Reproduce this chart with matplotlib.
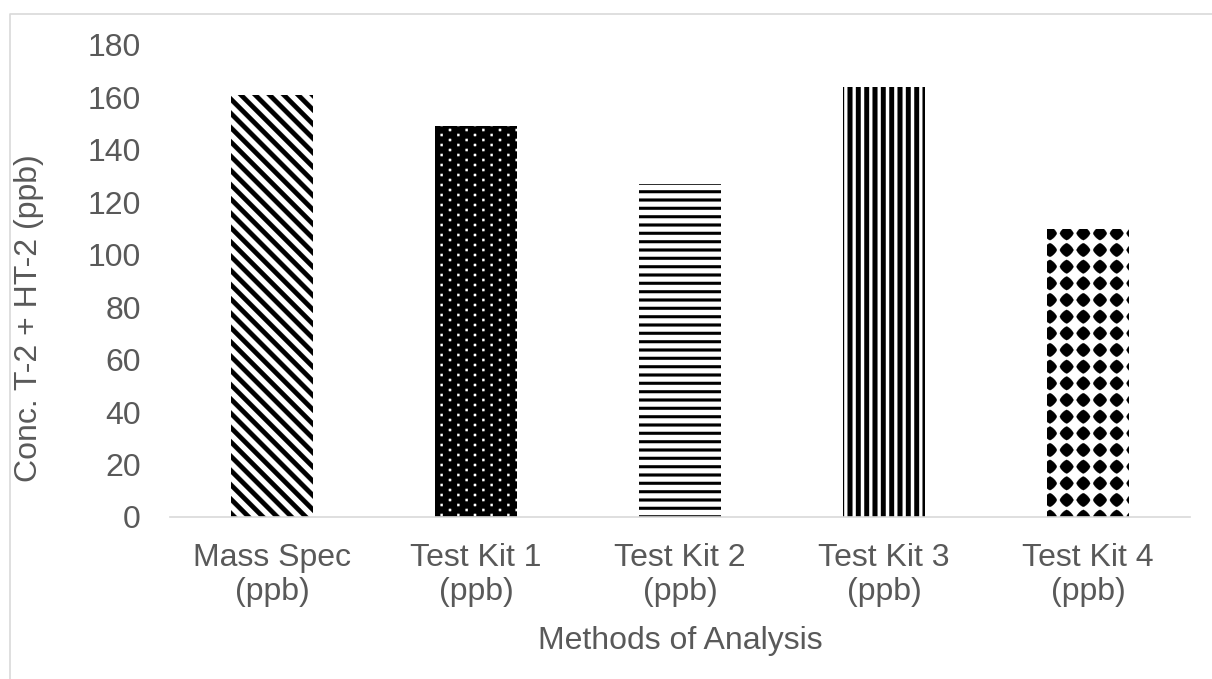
import numpy as np
import matplotlib
matplotlib.use("Agg")
import matplotlib.pyplot as plt
import matplotlib.hatch as mhatch
from matplotlib.path import Path
from matplotlib.lines import Line2D

# ---- data -------------------------------------------------------------
methods = ["Mass Spec\n(ppb)", "Test Kit 1\n(ppb)", "Test Kit 2\n(ppb)",
           "Test Kit 3\n(ppb)", "Test Kit 4\n(ppb)"]
concentrations = [161, 149, 127, 164, 110]
y_ticks = [0, 20, 40, 60, 80, 100, 120, 140, 160, 180]

x_title = "Methods of Analysis"
y_title = "Conc. T-2 + HT-2 (ppb)"

# hatch code, face colour, pattern colour for each bar
bar_fills = [("\\", "white", "black"),
             (".", "black", "white"),
             ("-", "white", "black"),
             ("|", "white", "black"),
             ("*", "white", "black")]

TEXT = "#595959"
RULE = "#d9d9d9"


# ---- pattern fills ----------------------------------------------------
# Each pattern is a set of filled polygons inside the unit hatch tile.
def _polygons_to_path(polys):
    verts, codes = [], []
    for poly in polys:
        poly = [tuple(p) for p in poly]
        verts.extend(poly)
        verts.append(poly[0])
        codes.extend([Path.MOVETO] + [Path.LINETO] * (len(poly) - 1)
                     + [Path.CLOSEPOLY])
    return Path(np.array(verts, float), codes)


def diagonal_bands(n, t):
    polys = []
    for k in range(-2, 2 * n + 2):
        c = k / n
        polys.append([(0, c), (1, c - 1), (1, c - 1 + t), (0, c + t)])
    return _polygons_to_path(polys)


def horizontal_bands(n, t):
    polys = []
    for k in range(n + 1):
        y = k / n
        polys.append([(-0.1, y - t / 2), (1.1, y - t / 2),
                      (1.1, y + t / 2), (-0.1, y + t / 2)])
    return _polygons_to_path(polys)


def vertical_bands(n, t):
    polys = []
    for k in range(n + 1):
        x = k / n
        polys.append([(x - t / 2, -0.1), (x + t / 2, -0.1),
                      (x + t / 2, 1.1), (x - t / 2, 1.1)])
    return _polygons_to_path(polys)


def dot_lattice(cols, rows, h):
    polys = []
    for r in range(rows + 1):
        y = r / rows
        shift = 0.5 if r % 2 else 0.0
        for c in range(-1, cols + 2):
            x = (c + shift) / cols
            polys.append([(x - h, y - h), (x + h, y - h),
                          (x + h, y + h), (x - h, y + h)])
    return _polygons_to_path(polys)


def diamond_grid(n, a, p=1.35):
    # rounded diamonds (superellipse |x|^p + |y|^p = a^p)
    th = np.linspace(0, 2 * np.pi, 33)[:-1]
    cx = np.sign(np.cos(th)) * np.abs(np.cos(th)) ** (2 / p) * a
    cy = np.sign(np.sin(th)) * np.abs(np.sin(th)) ** (2 / p) * a
    polys = []
    for r in range(n + 1):
        y = r / n
        for c in range(n + 1):
            x = c / n
            polys.append(np.column_stack([cx + x, cy + y]))
    return _polygons_to_path(polys)


PATTERN_PATHS = {
    "\\": diagonal_bands(7, 0.064),
    ".": dot_lattice(6, 20, 0.011),
    "-": horizontal_bands(12, 0.028),
    "|": vertical_bands(12, 0.047),
    "*": diamond_grid(6, 0.068),
}

_builtin_hatch_path = mhatch.get_path


def _hatch_path(hatchpattern, density=6):
    if hatchpattern in PATTERN_PATHS:
        return PATTERN_PATHS[hatchpattern]
    return _builtin_hatch_path(hatchpattern, density)


mhatch.get_path = _hatch_path

# ---- figure -----------------------------------------------------------
plt.rcParams["font.family"] = ["Liberation Sans", "DejaVu Sans"]
plt.rcParams["hatch.linewidth"] = 0.2

W, H = 1212, 679
fig = plt.figure(figsize=(W / 100, H / 100), dpi=100)
ax = fig.add_axes([170 / W, 1 - 517 / H, 1020 / W, 472 / H])

x = np.arange(len(methods))
bars = ax.bar(x, concentrations, width=0.405, linewidth=0)
for bar, (hatch, face, ink) in zip(bars, bar_fills):
    bar.set_facecolor(face)
    bar.set_edgecolor(ink)
    bar.set_hatch(hatch)
    bar.set_linewidth(0)

ax.set_xlim(-0.5, len(methods) - 0.5)
ax.set_ylim(0, 180)
ax.set_yticks(y_ticks)
ax.set_xticks(x)
ax.set_xticklabels(methods)

for side in ("top", "right", "left"):
    ax.spines[side].set_visible(False)
ax.spines["bottom"].set_color(RULE)
ax.spines["bottom"].set_linewidth(1.2)

ax.tick_params(axis="both", length=0, labelsize=23, labelcolor=TEXT)
ax.tick_params(axis="y", pad=21)
ax.tick_params(axis="x", pad=18.5)

ax.set_xlabel(x_title, fontsize=23, color=TEXT, va="center", ha="center")
ax.xaxis.set_label_coords(0.5, (517 - 641) / 472)
ax.set_ylabel(y_title, fontsize=23, color=TEXT, va="center", ha="center")
ax.yaxis.set_label_coords((29 - 170) / 1020, (517 - 318) / 472)

# chart-area border (left and top edges)
fig.add_artist(Line2D([9.5 / W, 9.5 / W, 1.01], [-0.01, 1 - 13.5 / H, 1 - 13.5 / H],
                      transform=fig.transFigure, color=RULE, linewidth=1.2))

fig.savefig("out.png", dpi=100, facecolor="white")
